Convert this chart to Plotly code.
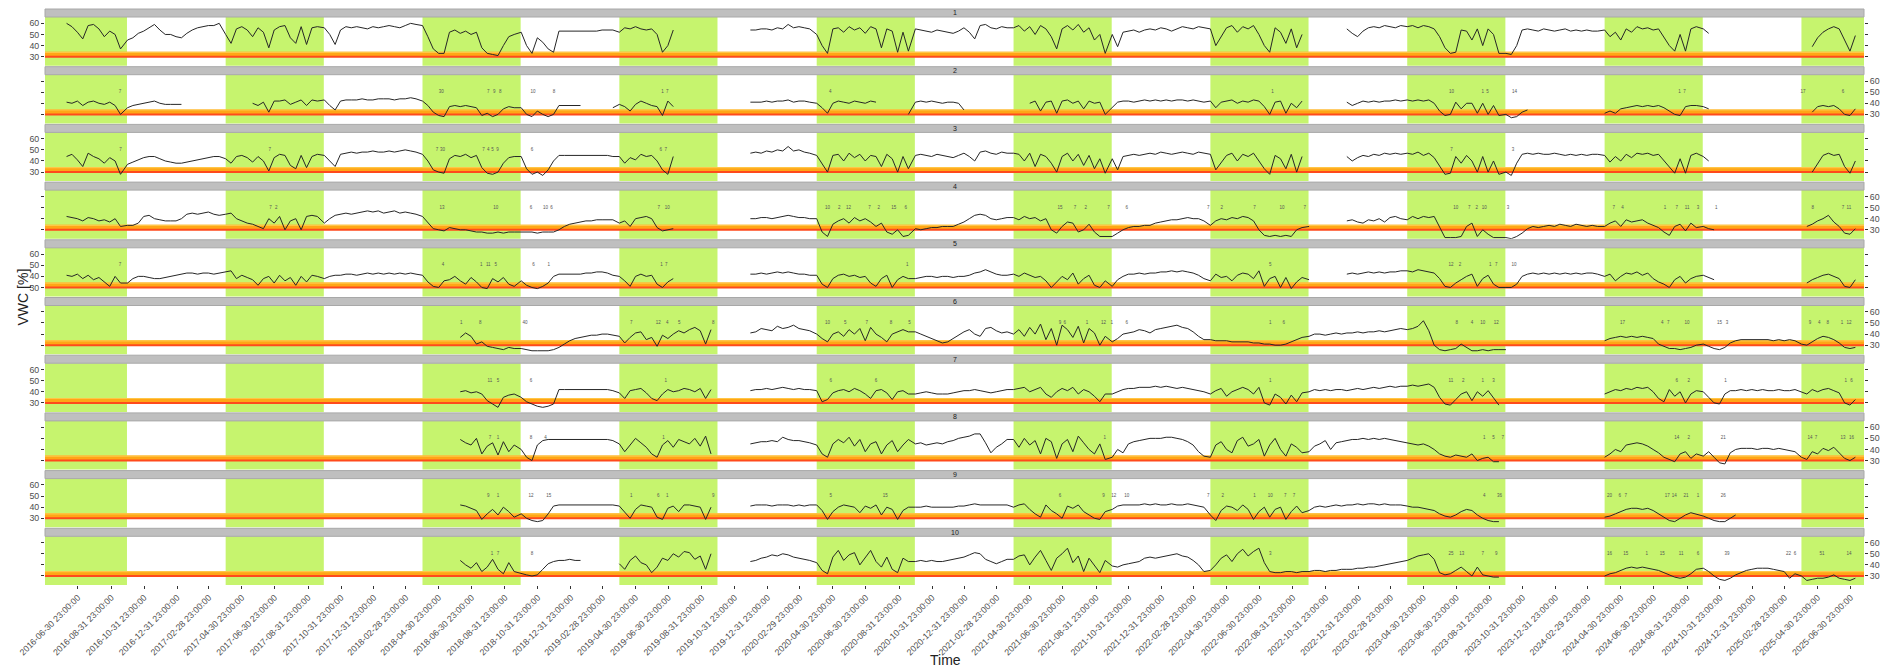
import pandas as pd
import plotly.graph_objects as go

_ = None

# ---------------------------------------------------------------------------
# Data
# ---------------------------------------------------------------------------
# Each probe series is stored as half-year blocks (Apr 1 - Sep 30, Oct 1 - Mar 31),
# sampled every 10 days; None marks missing readings.
HALF_YEAR_STARTS = []
for _yr in range(2016, 2026):
    HALF_YEAR_STARTS.append(f"{_yr}-04-01")
    if _yr < 2025:
        HALF_YEAR_STARTS.append(f"{_yr}-10-01")

STEP_DAYS = 10
SAMPLES_PER_HALF_YEAR = 18

PROBE_NAMES = ["1", "2", "3", "4", "5", "6", "7", "8", "9", "10"]

VWC_1 = [
    [_, _, _, _, _, _, _, 60, 57, 52, 46, 58, 59, 55, 48, 53, 50, 37],
    [45, 47, 51, 53, 56, 59, 54, 50, 50, 48, 47, 51, 54, 56, 57, 58, 58, 60],
    [50, 42, 55, 57, 54, 48, 56, 52, 38, 54, 57, 58, 47, 42, 57, 41, 56, 57],
    [56, 50, 41, 54, 57, 56, 57, 56, 55, 57, 56, 57, 58, 57, 56, 58, 60, 59],
    [58, 48, 37, 33, 33, 52, 54, 51, 53, 50, 52, 38, 33, 32, 31, 40, 48, 50],
    [52, 40, 33, 47, 43, 37, 34, 53, 53, 53, 53, 53, 53, 53, 53, 54, 54, 54],
    [52, 56, 55, 57, 55, 54, 55, 50, 34, 40, 54],
    [_, _, _, _, _, _, 54, 54, 55, 55, 54, 56, 55, 59, 56, 57, 56, 55],
    [50, 40, 33, 55, 56, 52, 57, 54, 56, 51, 57, 55, 38, 55, 53, 34, 52, 35],
    [55, 54, 53, 52, 54, 53, 52, 51, 53, 56, 52, 46, 58, 59, 56, 55, 57, 56],
    [56, 58, 53, 57, 50, 58, 55, 48, 37, 55, 58, 54, 59, 52, 56, 45, 50, 33],
    [50, 39, 52, 53, 54, 52, 54, 55, 54, 56, 55, 53, 55, 57, 56, 55, 57, 56],
    [55, 40, 48, 56, 58, 52, 57, 55, 58, 50, 40, 34, 56, 52, 42, 55, 38, 50],
    [_, _, _, _, _, _, _, 55, 51, 48, 53, 56, 57, 56, 58, 57, 56, 58],
    [57, 58, 56, 58, 57, 55, 48, 38, 33, 34, 54, 53, 45, 55, 40, 55, 50, 33],
    [33, 32, 40, 54, 55, 54, 53, 55, 54, 53, 54, 55, 53, 54, 53, 54, 53, 53],
    [54, 48, 52, 45, 55, 52, 57, 55, 56, 54, 55, 48, 40, 35, 50, 35, 55, 57],
    [55, 51],
    [_, _, 39, 47, 52, 55, 57, 55, 45, 35, 49],
]

VWC_2 = [
    [_, _, _, _, _, _, _, 41, 40, 42, 38, 41, 42, 40, 39, 41, 38, 30],
    [36, 38, 39, 40, 41, 42, 40, 39, 39, 39, 39],
    [_, _, _, _, _, 40, 38, 41, 32, 42, 42, 43, 39, 41, 43, 38, 43, 42],
    [43, 38, 34, 42, 43, 43, 43, 44, 43, 43, 44, 44, 44, 43, 44, 44, 45, 44],
    [42, 38, 32, 29, 28, 37, 38, 37, 38, 37, 36, 29, 31, 28, 30, 35, 37, 36],
    [36, 30, 28, 33, 30, 28, 30, 38, 38, 38, 38, 38, _, _, _, _, _, 36],
    [39, 37, 33, 39, 42, 40, 38, 37, 29, 42, 37],
    [_, _, _, _, _, _, 41, 41, 41, 42, 41, 42, 42, 43, 41, 42, 42, 41],
    [40, 36, 31, 40, 42, 41, 40, 42, 41, 40, 42, 41, _, _, _, _, _, 30],
    [41, 42, 41, 42, 41, 40, 41, 41, 40, 34],
    [_, _, _, 40, 42, 33, 41, 42, 31, 42, 43, 40, 42, 35, 42, 40, 41, 30],
    [36, 41, 42, 42, 41, 42, 43, 42, 43, 42, 43, 42, 43, 43, 42, 43, 42, 41],
    [42, 36, 41, 42, 43, 40, 42, 41, 43, 42, 37, 30, 41, 42, 31, 40, 36, 42],
    [_, _, _, _, _, _, _, 41, 38, 40, 42, 41, 42, 41, 42, 42, 43, 42],
    [43, 42, 43, 42, 43, 40, 33, 29, 30, 41, 35, 40, 40, 31, 40, 30, 38, 29],
    [30, 27, 28, 32, 34],
    [31, 33, 31, 35, 36, 37, 38, 37, 38, 37, 38, 36, 33, 30, 29, 37, 38, 38],
    [37, 35],
    [_, _, 32, 37, 38, 37, 38, 35, 30, 29, 35],
]

VWC_3 = [
    [_, _, _, _, _, _, _, 44, 46, 41, 35, 47, 44, 42, 38, 43, 40, 28],
    [37, 39, 41, 43, 44, 44, 42, 40, 39, 38, 38, 39, 40, 41, 42, 43, 44, 44],
    [42, 38, 44, 45, 43, 39, 44, 40, 31, 43, 46, 45, 36, 33, 45, 34, 44, 46],
    [45, 40, 35, 46, 47, 48, 47, 48, 48, 49, 48, 48, 49, 48, 49, 50, 49, 48],
    [46, 40, 32, 30, 29, 42, 45, 44, 46, 43, 45, 34, 29, 28, 30, 38, 43, 44],
    [44, 33, 28, 30, 27, 32, 40, 45, 45, 45, 45, 45, 45, 45, 45, 45, 45, 44],
    [44, 38, 43, 41, 46, 44, 45, 40, 32, 28, 44],
    [_, _, _, _, _, _, 47, 48, 47, 49, 48, 50, 49, 53, 49, 50, 48, 47],
    [45, 38, 30, 45, 46, 40, 47, 43, 46, 40, 45, 44, 35, 46, 42, 30, 44, 33],
    [45, 46, 45, 44, 46, 45, 44, 43, 45, 47, 44, 40, 48, 49, 47, 46, 48, 47],
    [47, 46, 40, 47, 35, 46, 44, 38, 30, 44, 47, 40, 46, 36, 45, 33, 42, 29],
    [42, 32, 44, 45, 46, 45, 46, 47, 46, 48, 47, 46, 47, 48, 47, 46, 48, 47],
    [46, 32, 38, 45, 47, 40, 46, 44, 47, 40, 33, 28, 45, 42, 33, 46, 30, 44],
    [_, _, _, _, _, _, _, 44, 40, 43, 45, 44, 46, 45, 47, 46, 47, 46],
    [47, 46, 48, 45, 47, 43, 35, 28, 29, 44, 38, 45, 40, 30, 44, 30, 40, 28],
    [30, 27, 38, 46, 47, 46, 47, 46, 46, 47, 46, 45, 46, 45, 46, 45, 46, 46],
    [45, 39, 44, 40, 46, 43, 47, 46, 47, 45, 46, 40, 35, 29, 42, 29, 45, 47],
    [44, 40],
    [_, _, 30, 38, 45, 47, 45, 46, 35, 29, 40],
]

VWC_4 = [
    [_, _, _, _, _, _, _, 42, 41, 40, 38, 41, 40, 38, 39, 37, 40, 33],
    [34, 34, 36, 42, 43, 40, 39, 38, 38, 38, 40, 44, 45, 44, 45, 46, 44, 43],
    [44, 45, 40, 38, 36, 35, 33, 31, 40, 36, 42, 30, 38, 40, 30, 42, 43, 42],
    [36, 40, 43, 44, 45, 44, 45, 46, 47, 46, 47, 45, 46, 47, 45, 46, 45, 44],
    [42, 36, 31, 30, 29, 32, 31, 30, 30, 29, 28, 28, 27, 27, 28, 27, 28, 28],
    [28, 28, 28, 27, 28, 28, 28, 30, 33, 35, 36, 37, 38, 38, 39, 39, 39, 39],
    [36, 38, 33, 40, 41, 42, 40, 32, 29, 30, 31],
    [_, _, _, _, _, _, 40, 40, 41, 41, 40, 41, 42, 43, 42, 41, 41, 40],
    [40, 28, 24, 35, 38, 40, 36, 41, 38, 40, 37, 33, 36, 28, 26, 30, 24, 25],
    [31, 30, 31, 32, 32, 33, 33, 33, 35, 37, 40, 43, 44, 43, 40, 39, 40, 41],
    [41, 39, 42, 40, 41, 38, 40, 30, 27, 33, 37, 36, 28, 30, 35, 28, 24, 24],
    [24, 27, 30, 32, 33, 33, 34, 34, 36, 37, 38, 39, 39, 40, 41, 40, 40, 38],
    [34, 38, 40, 39, 41, 40, 42, 41, 38, 30, 25, 24, 25, 24, 25, 24, 30, 32],
    [33, _, _, _, _, _, _, 38, 39, 37, 36, 39, 38, 40, 37, 41, 42, 40],
    [39, 42, 40, 42, 41, 42, 32, 23, 23, 23, 24, 33, 36, 24, 30, 26, 23, 23],
    [23, 22, 24, 27, 31, 33, 32, 33, 34, 33, 35, 34, 33, 35, 34, 33, 34, 33],
    [33, 36, 38, 33, 39, 37, 38, 39, 36, 34, 32, 28, 25, 33, 35, 29, 36, 32],
    [33, 31, 30],
    [_, 33, 35, 38, 40, 43, 37, 33, 27, 26, 31],
]

VWC_5 = [
    [_, _, _, _, _, _, _, 41, 40, 42, 38, 41, 37, 39, 35, 31, 40, 34],
    [34, 38, 40, 40, 39, 38, 38, 39, 40, 41, 42, 43, 43, 42, 43, 43, 42, 43],
    [44, 45, 38, 41, 39, 37, 32, 38, 40, 34, 41, 36, 39, 32, 40, 35, 41, 40],
    [38, 40, 41, 41, 42, 42, 41, 42, 43, 42, 43, 42, 43, 42, 43, 42, 43, 42],
    [41, 35, 31, 30, 36, 37, 40, 36, 33, 39, 35, 30, 29, 38, 35, 39, 33, 31],
    [36, 32, 30, 29, 31, 34, 40, 42, 42, 42, 42, 42, 43, 43, 44, 44, 43, 41],
    [40, 36, 31, 40, 42, 40, 41, 33, 30, 35, 38],
    [_, _, _, _, _, _, 42, 42, 43, 42, 43, 44, 43, 44, 43, 42, 42, 41],
    [41, 33, 30, 38, 41, 42, 40, 41, 39, 40, 34, 31, 38, 41, 30, 37, 40, 38],
    [38, 39, 40, 40, 39, 40, 40, 39, 40, 40, 41, 43, 44, 46, 44, 42, 41, 41],
    [42, 40, 43, 41, 39, 40, 36, 30, 35, 40, 37, 43, 33, 38, 41, 32, 30, 36],
    [31, 37, 40, 42, 42, 43, 42, 43, 43, 44, 44, 45, 44, 45, 44, 43, 41, 38],
    [36, 42, 39, 40, 36, 41, 43, 42, 38, 45, 31, 38, 40, 30, 39, 29, 35, 39],
    [37, _, _, _, _, _, _, 42, 43, 42, 43, 44, 43, 44, 43, 44, 44, 45],
    [45, 44, 46, 45, 44, 43, 38, 31, 30, 34, 37, 40, 42, 31, 38, 41, 33, 30],
    [30, 30, 33, 40, 42, 43, 42, 43, 42, 43, 42, 43, 42, 43, 42, 43, 43, 42],
    [40, 42, 36, 40, 43, 42, 44, 41, 43, 38, 35, 33, 30, 37, 40, 34, 38, 40],
    [41, 39, 37],
    [_, 34, 37, 39, 41, 42, 40, 38, 31, 30, 37],
]

VWC_6 = [
    [], [], [], [],
    [_, _, _, _, _, _, _, 37, 41, 38, 31, 33, 29, 28, 27, 26, 28, 27],
    [27, 26, 25, 25, 25, 25, 26, 28, 31, 34, 36, 37, 38, 39, 39, 40, 40, 39],
    [38, 32, 37, 41, 42, 35, 37, 29, 39, 36, 40, 43, 41, 44, 46, 43, 31, 44],
    [_, _, _, _, _, _, 41, 42, 45, 44, 43, 47, 45, 46, 48, 45, 44, 43],
    [40, 36, 33, 40, 42, 38, 44, 40, 45, 34, 46, 40, 37, 33, 40, 42, 44, 42],
    [42, 40, 38, 36, 34, 32, 33, 36, 39, 42, 44, 40, 38, 45, 46, 43, 41, 42],
    [40, 44, 38, 46, 40, 49, 35, 45, 30, 48, 44, 37, 47, 32, 45, 41, 30, 38],
    [33, 36, 40, 41, 42, 44, 43, 41, 44, 45, 46, 47, 48, 46, 45, 42, 38, 35],
    [35, 34, 34, 34, 33, 33, 33, 33, 32, 32, 31, 31, 30, 30, 31, 33, 35, 37],
    [38, 40, 40, 39, 40, 41, 40, 41, 41, 42, 41, 42, 42, 43, 42, 43, 44, 45],
    [44, 45, 47, 52, 43, 30, 26, 25, 26, 27, 31, 28, 25, 25, 26, 25, 26, 26],
    [26],
    [34, 36, 37, 38, 37, 38, 37, 38, 37, 36, 31, 29, 27, 27, 26, 27, 28, 30],
    [31, 29, 27, 26, 28, 32, 34, 35, 35, 35, 35, 35, 35, 34, 35, 34, 35, 34],
    [31, 30, 33, 36, 38, 37, 35, 32, 28, 27, 28],
]

VWC_7 = [
    [], [], [], [],
    [_, _, _, _, _, _, _, 40, 41, 39, 40, 38, 32, 29, 26, 35, 37, 38],
    [35, 31, 29, 27, 26, 27, 29, 42, 42, 42, 42, 42, 42, 42, 42, 42, 42, 41],
    [39, 34, 41, 42, 43, 39, 34, 32, 38, 42, 40, 41, 43, 42, 40, 43, 34, 42],
    [_, _, _, _, _, _, 41, 42, 42, 43, 42, 43, 44, 43, 42, 43, 42, 42],
    [41, 31, 33, 39, 41, 42, 40, 43, 41, 38, 34, 41, 42, 39, 33, 40, 41, 38],
    [38, 39, 40, 39, 38, 38, 38, 39, 40, 41, 41, 42, 41, 40, 39, 40, 41, 42],
    [42, 43, 44, 40, 42, 44, 38, 35, 40, 43, 41, 44, 38, 42, 40, 36, 31, 38],
    [38, 40, 42, 43, 43, 44, 44, 44, 45, 44, 45, 44, 43, 44, 43, 42, 41, 40],
    [38, 41, 43, 36, 40, 42, 44, 42, 38, 44, 30, 28, 38, 35, 29, 37, 31, 39],
    [40, 42, 41, 42, 41, 42, 42, 41, 42, 43, 42, 43, 44, 43, 44, 45, 44, 45],
    [45, 46, 45, 46, 47, 44, 35, 29, 28, 33, 38, 40, 32, 40, 36, 41, 34, 28],
    [],
    [38, 40, 42, 41, 43, 42, 44, 43, 44, 40, 34, 31, 42, 36, 40, 30, 38, 41],
    [40, 35, 30, 29, 38, 41, 41, 42, 41, 42, 41, 42, 41, 41, 42, 41, 41, 42],
    [40, 38, 42, 40, 42, 43, 41, 39, 30, 28, 33],
]

VWC_8 = [
    [], [], [], [],
    [_, _, _, _, _, _, _, 49, 46, 44, 50, 36, 43, 46, 35, 47, 38, 44],
    [40, 33, 30, 44, 48, 49, 49, 49, 49, 49, 49, 49, 49, 49, 49, 49, 49, 48],
    [45, 38, 44, 50, 46, 42, 36, 33, 44, 48, 42, 49, 47, 45, 50, 43, 52, 36],
    [_, _, _, _, _, _, 45, 46, 47, 47, 48, 47, 51, 49, 48, 48, 47, 46],
    [44, 36, 33, 45, 49, 46, 51, 43, 49, 38, 45, 47, 36, 44, 48, 38, 44, 49],
    [45, 46, 44, 45, 46, 45, 47, 48, 50, 51, 52, 54, 54, 46, 37, 42, 45, 49],
    [49, 42, 50, 44, 48, 36, 50, 47, 32, 45, 49, 38, 52, 46, 40, 36, 45, 31],
    [33, 40, 37, 45, 47, 48, 49, 50, 50, 50, 51, 51, 50, 49, 47, 44, 38, 34],
    [33, 44, 47, 40, 37, 48, 51, 43, 45, 49, 34, 44, 50, 40, 34, 45, 42, 37],
    [38, 43, 45, 48, 40, 46, 47, 48, 49, 49, 50, 49, 50, 49, 50, 49, 48, 47],
    [46, 45, 44, 45, 43, 40, 36, 34, 33, 35, 34, 33, 36, 30, 32, 33, 29, 29],
    [],
    [33, 36, 40, 38, 44, 45, 46, 45, 43, 40, 37, 33, 31, 29, 36, 38, 32, 36],
    [34, 38, 33, 28, 27, 37, 40, 41, 41, 41, 40, 41, 41, 40, 41, 40, 39, 38],
    [33, 31, 38, 36, 41, 39, 42, 37, 32, 30, 33],
]

VWC_9 = [
    [], [], [], [],
    [_, _, _, _, _, _, _, 42, 41, 39, 37, 29, 34, 38, 33, 40, 36, 31],
    [34, 30, 28, 27, 28, 34, 41, 42, 42, 42, 42, 42, 42, 42, 42, 42, 42, 42],
    [41, 35, 30, 38, 42, 41, 40, 31, 29, 39, 41, 36, 42, 42, 41, 40, 29, 40],
    [_, _, _, _, _, _, 41, 42, 42, 42, 41, 42, 42, 42, 41, 42, 41, 42],
    [42, 37, 29, 36, 40, 42, 41, 40, 35, 41, 39, 42, 33, 40, 38, 29, 37, 40],
    [40, 40, 41, 40, 40, 40, 40, 40, 41, 41, 42, 43, 42, 42, 42, 42, 42, 42],
    [40, 42, 43, 38, 34, 31, 42, 37, 34, 30, 41, 39, 42, 36, 33, 30, 29, 36],
    [38, 41, 42, 42, 42, 42, 43, 42, 43, 42, 42, 43, 42, 42, 43, 42, 41, 40],
    [33, 28, 37, 41, 40, 37, 42, 38, 29, 36, 40, 31, 38, 40, 29, 36, 41, 35],
    [37, 40, 41, 40, 41, 42, 41, 42, 42, 43, 42, 43, 43, 42, 43, 42, 42, 42],
    [41, 40, 40, 39, 38, 37, 34, 32, 31, 33, 36, 38, 37, 33, 30, 28, 27, 27],
    [],
    [31, 32, 34, 36, 38, 39, 39, 38, 39, 37, 34, 31, 28, 27, 30, 33, 35, 34],
    [32, 30, 28, 27, 27, 30, 33],
    [],
]

VWC_10 = [
    [], [], [], [],
    [_, _, _, _, _, _, _, 44, 40, 37, 42, 34, 38, 45, 36, 32, 42, 34],
    [32, 31, 30, 31, 36, 41, 43, 44, 44, 45, 44, 44],
    [41, 36, 44, 48, 42, 40, 33, 38, 46, 44, 50, 47, 52, 51, 45, 48, 36, 50],
    [_, _, _, _, _, _, 43, 44, 46, 47, 49, 48, 50, 49, 47, 46, 45, 44],
    [42, 35, 32, 47, 53, 44, 49, 51, 40, 46, 53, 43, 38, 47, 36, 33, 46, 43],
    [43, 44, 43, 44, 43, 43, 44, 45, 46, 47, 49, 51, 50, 45, 43, 41, 43, 45],
    [45, 48, 49, 40, 47, 53, 44, 35, 46, 50, 55, 42, 48, 34, 46, 39, 33, 44],
    [39, 38, 40, 41, 42, 43, 46, 47, 46, 47, 48, 49, 50, 48, 47, 44, 40, 34],
    [35, 40, 46, 49, 43, 50, 54, 48, 52, 55, 42, 34, 33, 33, 34, 34, 33, 34],
    [34, 35, 35, 34, 35, 35, 36, 36, 36, 37, 37, 38, 38, 39, 40, 41, 42, 43],
    [44, 46, 48, 49, 50, 45, 33, 31, 32, 35, 38, 34, 30, 38, 31, 30, 29, 29],
    [],
    [30, 32, 33, 35, 37, 38, 37, 38, 37, 36, 35, 33, 31, 29, 28, 29, 32, 36],
    [37, 34, 30, 27, 26, 28, 31, 33, 35, 36, 37, 37, 37, 36, 35, 34, 28, 32],
    [30, 26, 27, 28, 28, 29, 31, 28, 27, 26, 28],
]

# Rain-event annotations (date, label) per probe
LABELS_1 = []
LABELS_2 = [("2016-09-17", "7"), ("2018-05-06", "30"), ("2018-08-01", "7"), ("2018-08-12", "9"),
            ("2018-08-23", "8"), ("2018-10-23", "10"), ("2018-12-01", "8"), ("2019-06-20", "1"),
            ("2019-06-29", "7"), ("2020-04-26", "4"), ("2022-07-25", "1"), ("2023-06-22", "10"),
            ("2023-08-19", "1"), ("2023-08-28", "5"), ("2023-10-17", "14"), ("2024-08-18", "1"),
            ("2024-08-27", "7"), ("2025-04-04", "17"), ("2025-06-17", "6")]
LABELS_3 = [("2016-09-18", "7"), ("2017-06-22", "7"), ("2018-04-28", "7"), ("2018-05-08", "30"),
            ("2018-07-23", "7"), ("2018-08-01", "4"), ("2018-08-09", "5"), ("2018-08-18", "9"),
            ("2018-10-21", "6"), ("2019-06-17", "6"), ("2019-06-26", "7"), ("2023-06-22", "7"),
            ("2023-10-14", "3")]
LABELS_4 = [("2017-06-23", "7"), ("2017-07-04", "2"), ("2018-05-07", "13"), ("2018-08-15", "10"),
            ("2018-10-19", "6"), ("2018-11-15", "10"), ("2018-11-26", "6"), ("2019-06-13", "7"),
            ("2019-06-29", "10"), ("2020-04-21", "10"), ("2020-05-13", "2"), ("2020-05-30", "12"),
            ("2020-07-08", "7"), ("2020-07-25", "2"), ("2020-08-22", "15"), ("2020-09-13", "6"),
            ("2021-06-26", "15"), ("2021-07-24", "7"), ("2021-08-13", "2"), ("2021-09-24", "7"),
            ("2021-10-28", "6"), ("2022-03-28", "7"), ("2022-04-22", "2"), ("2022-06-22", "7"),
            ("2022-08-12", "10"), ("2022-09-23", "7"), ("2023-06-30", "10"), ("2023-07-25", "7"),
            ("2023-08-08", "2"), ("2023-08-22", "10"), ("2023-10-05", "3"), ("2024-04-18", "7"),
            ("2024-05-04", "4"), ("2024-07-22", "1"), ("2024-08-13", "7"), ("2024-09-01", "11"),
            ("2024-09-21", "3"), ("2024-10-25", "1"), ("2025-04-22", "8"), ("2025-06-17", "7"),
            ("2025-06-28", "11")]
LABELS_5 = [("2016-09-17", "7"), ("2018-05-09", "4"), ("2018-07-19", "1"), ("2018-08-01", "11"),
            ("2018-08-15", "5"), ("2018-10-24", "6"), ("2018-11-21", "1"), ("2019-06-18", "1"),
            ("2019-06-27", "7"), ("2020-09-16", "1"), ("2022-07-21", "5"), ("2023-06-21", "12"),
            ("2023-07-08", "2"), ("2023-09-02", "1"), ("2023-09-13", "7"), ("2023-10-16", "10")]
LABELS_6 = [("2018-06-12", "1"), ("2018-07-17", "8"), ("2018-10-08", "40"), ("2019-04-23", "7"),
            ("2019-06-12", "12"), ("2019-06-29", "4"), ("2019-07-21", "5"), ("2019-09-22", "8"),
            ("2020-04-21", "10"), ("2020-05-24", "5"), ("2020-07-03", "7"), ("2020-08-17", "8"),
            ("2020-09-20", "5"), ("2021-06-26", "9"), ("2021-07-05", "6"), ("2021-08-15", "1"),
            ("2021-09-15", "12"), ("2021-09-30", "1"), ("2021-10-28", "6"), ("2022-07-21", "1"),
            ("2022-08-15", "6"), ("2023-07-02", "8"), ("2023-07-30", "4"), ("2023-08-19", "10"),
            ("2023-09-13", "12"), ("2024-05-04", "17"), ("2024-07-17", "4"), ("2024-07-28", "7"),
            ("2024-09-01", "10"), ("2024-10-31", "15"), ("2024-11-14", "3"), ("2025-04-17", "9"),
            ("2025-05-04", "4"), ("2025-05-20", "8"), ("2025-06-15", "1"), ("2025-06-28", "12")]
LABELS_7 = [("2018-08-04", "11"), ("2018-08-19", "5"), ("2018-10-19", "6"), ("2019-06-26", "1"),
            ("2020-04-27", "6"), ("2020-07-20", "6"), ("2022-07-21", "1"), ("2023-06-21", "11"),
            ("2023-07-14", "2"), ("2023-08-19", "1"), ("2023-09-08", "3"), ("2024-08-13", "6"),
            ("2024-09-04", "2"), ("2024-11-11", "1"), ("2025-06-22", "1"), ("2025-07-03", "6")]
LABELS_8 = [("2018-08-04", "7"), ("2018-08-19", "1"), ("2018-10-19", "8"), ("2018-11-15", "4"),
            ("2019-06-22", "1"), ("2021-09-17", "1"), ("2023-08-22", "1"), ("2023-09-08", "5"),
            ("2023-09-25", "7"), ("2024-08-13", "14"), ("2024-09-04", "2"), ("2024-11-07", "21"),
            ("2025-04-17", "14"), ("2025-04-28", "7"), ("2025-06-17", "13"), ("2025-07-03", "16")]
LABELS_9 = [("2018-08-01", "9"), ("2018-08-19", "1"), ("2018-10-19", "12"), ("2018-11-21", "15"),
            ("2019-04-23", "1"), ("2019-06-12", "6"), ("2019-06-29", "1"), ("2019-09-22", "9"),
            ("2020-04-27", "5"), ("2020-08-06", "15"), ("2021-06-26", "6"), ("2021-09-15", "9"),
            ("2021-10-04", "12"), ("2021-10-28", "10"), ("2022-03-28", "7"), ("2022-04-24", "2"),
            ("2022-06-22", "1"), ("2022-07-21", "10"), ("2022-08-18", "7"), ("2022-09-03", "7"),
            ("2023-08-22", "4"), ("2023-09-19", "36"), ("2024-04-10", "20"), ("2024-04-29", "6"),
            ("2024-05-10", "7"), ("2024-07-26", "17"), ("2024-08-08", "14"), ("2024-08-30", "21"),
            ("2024-09-21", "1"), ("2024-11-07", "26")]
LABELS_10 = [("2018-08-08", "1"), ("2018-08-19", "7"), ("2018-10-21", "8"), ("2022-07-21", "3"),
             ("2023-06-21", "25"), ("2023-07-11", "13"), ("2023-08-19", "7"), ("2023-09-13", "9"),
             ("2024-04-10", "16"), ("2024-05-10", "15"), ("2024-06-18", "1"), ("2024-07-17", "15"),
             ("2024-08-21", "11"), ("2024-09-21", "6"), ("2024-11-14", "39"), ("2025-03-08", "22"),
             ("2025-03-20", "6"), ("2025-05-09", "51"), ("2025-06-28", "14")]

# Growing seasons (shaded)
SEASON_START = [f"{y}-04-01" for y in range(2016, 2026)]
SEASON_END = [f"{y}-09-30" for y in range(2016, 2026)]

# Critical moisture band
BAND_LOW = 30
BAND_HIGH = 34.5

# Axis ticks
TICK_DATES = pd.date_range("2016-06-30", "2025-06-30", freq="2ME") + pd.Timedelta(hours=23)
TICK_TEXT = [d.strftime("%Y-%m-%d %H:%M:%S") for d in TICK_DATES]
Y_TICKS = [30, 40, 50, 60]

PANELS = [VWC_1, VWC_2, VWC_3, VWC_4, VWC_5, VWC_6, VWC_7, VWC_8, VWC_9, VWC_10]
LABELS = [LABELS_1, LABELS_2, LABELS_3, LABELS_4, LABELS_5,
          LABELS_6, LABELS_7, LABELS_8, LABELS_9, LABELS_10]

# ---------------------------------------------------------------------------
# Styling / geometry
# ---------------------------------------------------------------------------
W, H = 1888, 669
M_L, M_R, M_T, M_B = 45, 24, 9, 83
PLOT_H = H - M_T - M_B
PLOT_W = W - M_L - M_R
PITCH = 57.7
STRIP_H = 8.0
PANEL_H = 48.7

X_RANGE = ["2016-05-01", "2025-07-26"]
Y_RANGE = [21.9, 65.7]
LABEL_LEVEL = 50

FONT = "Liberation Sans, Arial, sans-serif"
LINE_COLOR = "#262626"
GREEN = "#C6F46E"
BAND = "#FFA616"
BAND_TOP = "#FFC647"
RED = "#FF4A1C"
STRIP = "#BFBFBF"
STRIP_EDGE = "#A8A8A8"
TICK_FONT = dict(family=FONT, size=8.8, color="#4D4D4D")


def panel_series(rows):
    xs, ys = [], []
    for start, vals in zip(HALF_YEAR_STARTS, rows):
        t0 = pd.Timestamp(start)
        vals = vals[:SAMPLES_PER_HALF_YEAR]
        for j, v in enumerate(vals):
            xs.append((t0 + pd.Timedelta(days=STEP_DAYS * j)).strftime("%Y-%m-%d"))
            ys.append(v)
        if len(vals) < SAMPLES_PER_HALF_YEAR:
            xs.append((t0 + pd.Timedelta(days=STEP_DAYS * len(vals))).strftime("%Y-%m-%d"))
            ys.append(None)
    return xs, ys


fig = go.Figure()
layout = dict(
    width=W, height=H,
    margin=dict(l=M_L, r=M_R, t=M_T, b=M_B, pad=0),
    paper_bgcolor="white", plot_bgcolor="white",
    showlegend=False,
    font=dict(family=FONT, color="#333333"),
)
shapes = []
annotations = []

for k in range(1, 11):
    sfx = "" if k == 1 else str(k)
    strip_top = (k - 1) * PITCH
    panel_top = strip_top + STRIP_H
    panel_bot = panel_top + PANEL_H
    dom = [1 - panel_bot / PLOT_H, 1 - panel_top / PLOT_H]

    xs, ys = panel_series(PANELS[k - 1])
    fig.add_trace(go.Scatter(
        x=xs, y=ys, mode="lines", connectgaps=False,
        line=dict(color=LINE_COLOR, width=1),
        xaxis="x" + sfx, yaxis="y" + sfx, hoverinfo="skip",
    ))
    if LABELS[k - 1]:
        fig.add_trace(go.Scatter(
            x=[d for d, _t in LABELS[k - 1]],
            y=[LABEL_LEVEL] * len(LABELS[k - 1]),
            text=[t for _d, t in LABELS[k - 1]],
            mode="text", textfont=dict(family=FONT, size=4.5, color="#555555"),
            xaxis="x" + sfx, yaxis="y" + sfx, hoverinfo="skip",
        ))

    bottom = k == 10
    layout["xaxis" + sfx] = dict(
        domain=[0, 1], anchor="y" + sfx, type="date", range=X_RANGE,
        showgrid=False, zeroline=False, showline=False,
        showticklabels=bottom, ticks="outside" if bottom else "",
        ticklen=3, tickcolor="#333333", tickwidth=1,
        tickvals=[d.strftime("%Y-%m-%d %H:%M:%S") for d in TICK_DATES],
        ticktext=TICK_TEXT, tickangle=-45, tickfont=TICK_FONT,
    )
    layout["yaxis" + sfx] = dict(
        domain=dom, anchor="x" + sfx, range=Y_RANGE,
        tickvals=Y_TICKS, side="left" if k % 2 == 1 else "right",
        mirror="ticks", ticks="outside", ticklen=3, tickcolor="#333333", tickwidth=1,
        showgrid=False, zeroline=False, showline=False, tickfont=TICK_FONT,
    )

    xref = "x" + sfx
    yref = "y" + sfx
    # growing-season shading
    for s0, s1 in zip(SEASON_START, SEASON_END):
        shapes.append(dict(type="rect", xref=xref, yref=yref + " domain",
                           x0=s0, x1=s1, y0=0, y1=1, fillcolor=GREEN,
                           line=dict(width=0), layer="below"))
    # critical band
    shapes.append(dict(type="rect", xref=xref + " domain", yref=yref,
                       x0=0, x1=1, y0=BAND_LOW, y1=BAND_HIGH, fillcolor=BAND,
                       line=dict(width=0), layer="below"))
    shapes.append(dict(type="rect", xref=xref + " domain", yref=yref,
                       x0=0, x1=1, y0=BAND_HIGH - 1.1, y1=BAND_HIGH, fillcolor=BAND_TOP,
                       line=dict(width=0), layer="below"))
    shapes.append(dict(type="line", xref=xref + " domain", yref=yref,
                       x0=0, x1=1, y0=BAND_LOW, y1=BAND_LOW,
                       line=dict(color=RED, width=2), layer="below"))

    # facet strip
    s_y1 = 1 - strip_top / PLOT_H
    s_y0 = 1 - (strip_top + STRIP_H) / PLOT_H
    shapes.append(dict(type="rect", xref="paper", yref="paper", x0=0, x1=1,
                       y0=s_y0, y1=s_y1, fillcolor=STRIP,
                       line=dict(color=STRIP_EDGE, width=1), layer="above"))
    annotations.append(dict(text=PROBE_NAMES[k - 1], xref="paper", yref="paper",
                            x=0.5, y=(s_y0 + s_y1) / 2, showarrow=False,
                            font=dict(family=FONT, size=7, color="#1a1a1a"),
                            xanchor="center", yanchor="middle"))

# axis titles
annotations.append(dict(text="VWC [%]", xref="paper", yref="paper",
                        x=(22 - M_L) / PLOT_W, y=0.5, textangle=-90, showarrow=False,
                        font=dict(family=FONT, size=14, color="#222222"),
                        xanchor="center", yanchor="middle"))
annotations.append(dict(text="Time", xref="paper", yref="paper",
                        x=(945 - M_L) / PLOT_W, y=(M_T + PLOT_H - 660) / PLOT_H,
                        showarrow=False, font=dict(family=FONT, size=14, color="#222222"),
                        xanchor="center", yanchor="middle"))

layout["shapes"] = shapes
layout["annotations"] = annotations
fig.update_layout(**layout)
fig.write_html("out.html")
